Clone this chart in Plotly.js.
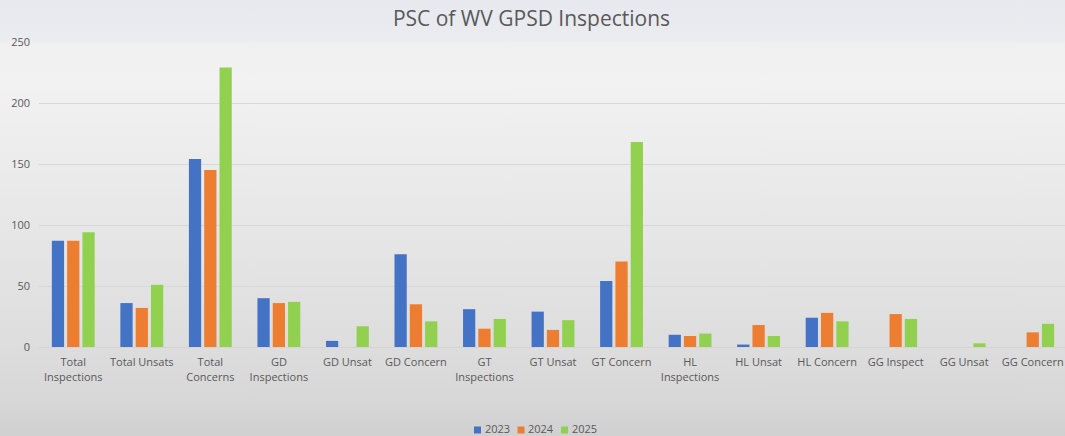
<!DOCTYPE html>
<html>
<head>
<meta charset="utf-8">
<script src="https://cdn.plot.ly/plotly-3.0.1.min.js"></script>
<style>
  html, body { margin: 0; padding: 0; }
  body {
    width: 1065px; height: 436px; overflow: hidden;
    background: linear-gradient(to bottom, #e7e9ee 0px, #eaecf0 40px, #f0f0f1 44px, #f2f2f2 80px, #ebebeb 170px, #e4e4e4 260px, #dddddd 347px, #d7d7d7 400px, #d0d0d0 436px);
  }
  #chart { width: 1068px; height: 436px; }
</style>
</head>
<body>
<div id="chart"></div>
<script>
const categories = [
  "Total<br>Inspections", "Total Unsats", "Total<br>Concerns", "GD<br>Inspections", "GD Unsat",
  "GD Concern", "GT<br>Inspections", "GT Unsat", "GT Concern", "HL<br>Inspections",
  "HL Unsat", "HL Concern", "GG Inspect", "GG Unsat", "GG Concern"
];
const values2023 = [87, 36, 154, 40, 5, 76, 31, 29, 54, 10, 2, 24, 0, 0, 0];
const values2024 = [87, 32, 145, 36, 0, 35, 15, 14, 70, 9, 18, 28, 27, 0, 12];
const values2025 = [94, 51, 229, 37, 17, 21, 23, 22, 168, 11, 9, 21, 23, 3, 19];
const seriesNames = ["2023", "2024", "2025"];
const yTicks = [0, 50, 100, 150, 200, 250];

const colors = ["#4472C4", "#ED7D31", "#92D050"];
const allValues = [values2023, values2024, values2025];

const traces = allValues.map((vals, i) => ({
  type: "bar",
  name: seriesNames[i],
  x: categories,
  y: vals,
  marker: { color: colors[i], line: { width: 0 } },
  hoverinfo: "x+y+name",
  showlegend: false
}));

const font = "'Open Sans', 'Liberation Sans', sans-serif";

// plot geometry (pixels)
const W = 1068, H = 436;
const M = { l: 39, r: 1, t: 42, b: 89 };
const plotW = W - M.l - M.r, plotH = H - M.t - M.b;
const px = x => (x - M.l) / plotW;          // pixel x -> paper x
const py = y => (H - M.b - y) / plotH;       // pixel y -> paper y

// legend built below the plot: coloured key squares + real text labels
const legendSquareX = [474, 517.5, 561];
const legendTextX = [483.5, 527, 570.5];
const legendSquareY = 430;
const legendTextY = 428.5;
const shapes = seriesNames.map((n, i) => ({
  type: "rect", xref: "paper", yref: "paper",
  x0: px(legendSquareX[i]), x1: px(legendSquareX[i] + 7),
  y0: py(legendSquareY - 3.5), y1: py(legendSquareY + 3.5),
  fillcolor: colors[i], line: { width: 0 }
}));
const annotations = seriesNames.map((n, i) => ({
  text: n, xref: "paper", yref: "paper",
  x: px(legendTextX[i]), y: py(legendTextY),
  xanchor: "left", yanchor: "middle", showarrow: false,
  borderpad: 0,
  font: { family: font, size: 11, color: "#595959" }
}));

const layout = {
  width: W,
  height: H,
  paper_bgcolor: "rgba(0,0,0,0)",
  plot_bgcolor: "rgba(0,0,0,0)",
  margin: M,
  barmode: "group",
  bargap: 0.33,
  bargroupgap: 0.2,
  font: { family: font, color: "#595959", size: 11 },
  title: {
    text: "PSC of WV GPSD Inspections",
    font: { family: font, size: 21, color: "#595959" },
    x: 531.5 / W, xref: "container", xanchor: "center",
    y: 0.975, yref: "container", yanchor: "top",
    pad: { t: 0, b: 0 }
  },
  xaxis: {
    type: "category",
    showgrid: false,
    showline: true,
    linecolor: "#d4d4d4",
    linewidth: 1,
    ticks: "",
    tickangle: 0,
    ticklabelstandoff: 5,
    tickfont: { family: font, size: 11, color: "#595959" },
    automargin: false
  },
  yaxis: {
    range: [0, 250],
    tickvals: yTicks,
    showgrid: true,
    gridcolor: "#d8d8d8",
    gridwidth: 1,
    zeroline: false,
    showline: false,
    ticks: "",
    ticklabelstandoff: 8,
    tickfont: { family: font, size: 11, color: "#595959" },
    automargin: false
  },
  showlegend: false,
  shapes: shapes,
  annotations: annotations
};

Plotly.newPlot("chart", traces, layout, { displayModeBar: false, staticPlot: true });
</script>
</body>
</html>
